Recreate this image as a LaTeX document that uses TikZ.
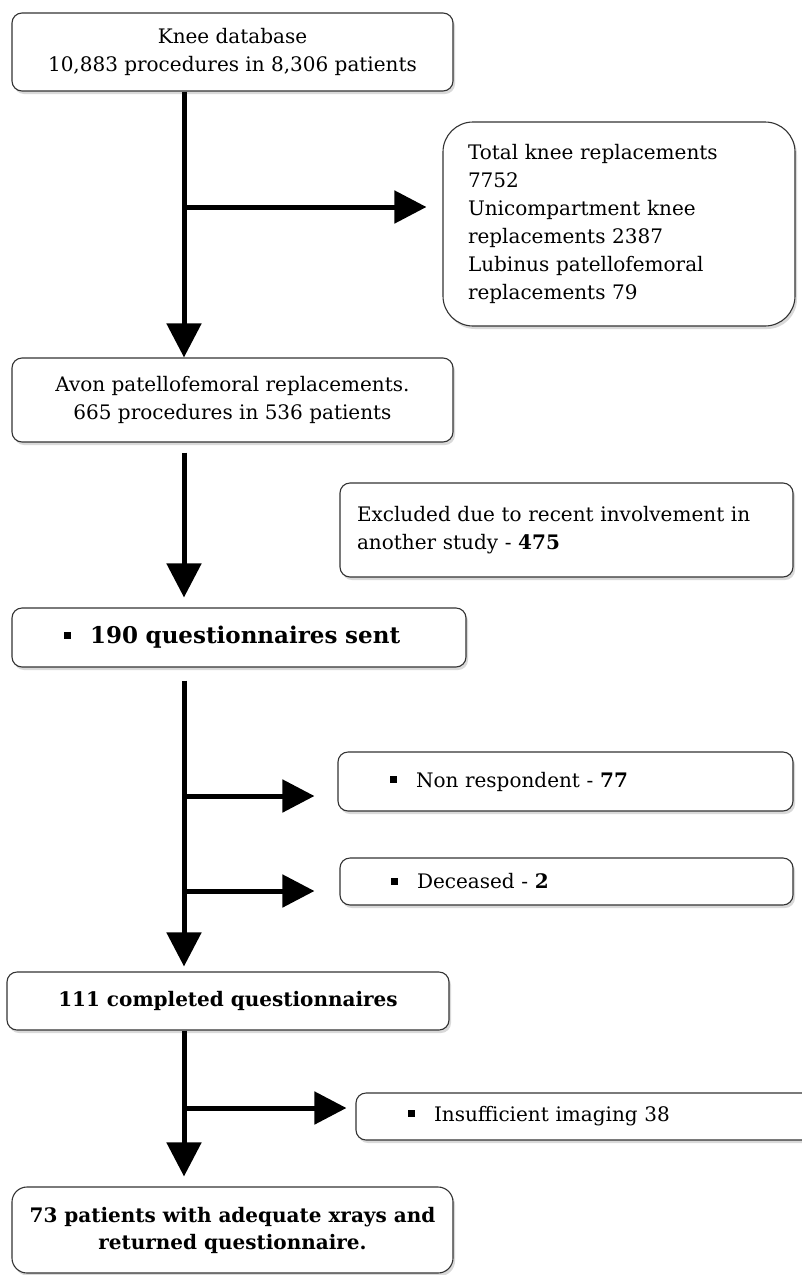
\documentclass[tikz,border=0pt]{standalone}
\usepackage{fontspec}
\setmainfont{DejaVu Serif}
\usetikzlibrary{arrows.meta,shadows}
\newcommand{\sqbul}{\rule[0.22em]{7pt}{7pt}\hspace{19pt}}

\begin{document}
\begin{tikzpicture}[x=1pt,y=-1pt,
  box/.style={draw=black!80, line width=1.1pt, fill=white, rounded corners=10pt,
    inner sep=0pt, drop shadow={opacity=0.3, shadow xshift=2pt, shadow yshift=-3pt},
    font=\fontsize{20}{28}\selectfont, align=center},
  flow/.style={line width=5pt, -{Triangle[length=34pt,width=34pt]}},
  twig/.style={line width=5pt, -{Triangle[length=32pt,width=32pt]}}]
  \useasboundingbox (0.00,0.00) rectangle (801.00,1275.00);

  \node[box, minimum width=441pt, minimum height=78pt] (1) at (232.50,52.00) {Knee database\\10,883 procedures in 8,306 patients};
  \node[box, rounded corners=30pt, minimum width=352pt, minimum height=204pt, text width=302pt, align=left] (2) at (619.00,224.00) {Total knee replacements\\7752\\Unicompartment knee\\replacements 2387\\Lubinus patellofemoral\\replacements 79};
  \node[box, minimum width=441pt, minimum height=84pt] (3) at (232.50,400.00) {Avon patellofemoral replacements.\\665 procedures in 536 patients};
  \node[box, minimum width=453pt, minimum height=94pt, text width=419pt, align=left] (4) at (566.50,530.00) {Excluded due to recent involvement in\\another study - \textbf{475}};
  \node[box, font=\bfseries\fontsize{23}{28}\selectfont, minimum width=454pt, minimum height=59pt, text width=350pt, align=left] (5) at (239.00,637.50) {\sqbul 190 questionnaires sent};
  \node[box, minimum width=455pt, minimum height=59pt, text width=351pt, align=left] (6) at (565.50,781.50) {\sqbul Non respondent - \textbf{77}};
  \node[box, minimum width=453pt, minimum height=47pt, text width=351pt, align=left] (7) at (566.50,881.50) {\sqbul Deceased - \textbf{2}};
  \node[box, font=\bfseries\fontsize{20}{27}\selectfont, minimum width=442pt, minimum height=58pt] (8) at (228.00,1001.00) {111 completed questionnaires};
  \node[box, minimum width=474pt, minimum height=47pt, text width=370pt, align=left] (9) at (593.00,1116.50) {\sqbul Insufficient imaging 38};
  \node[box, rounded corners=15pt, font=\bfseries\fontsize{20}{27}\selectfont, minimum width=441pt, minimum height=86pt] (10) at (232.50,1230.00) {73 patients with adequate xrays and\\returned questionnaire.};

  \coordinate (s) at (184.00,0.00);
  \coordinate (b1) at (184.00,207.00);
  \coordinate (b2) at (184.00,796.00);
  \coordinate (b3) at (184.00,891.00);
  \coordinate (b4) at (184.00,1108.00);

  \draw[flow] (1.south -| s) -- (3.north -| s);
  \draw[twig, shorten >=16pt] (b1) -- (b1 -| 2.west);
  \draw[flow, shorten <=10pt, shorten >=10pt] (3.south -| s) -- (5.north -| s);
  \draw[flow, shorten <=13pt, shorten >=5pt] (5.south -| s) -- (8.north -| s);
  \draw[twig, shorten >=23pt] (b2) -- (b2 -| 6.west);
  \draw[twig, shorten >=25pt] (b3) -- (b3 -| 7.west);
  \draw[flow, shorten >=10pt] (8.south -| s) -- (10.north -| s);
  \draw[twig, shorten >=9pt] (b4) -- (b4 -| 9.west);
\end{tikzpicture}
\end{document}
